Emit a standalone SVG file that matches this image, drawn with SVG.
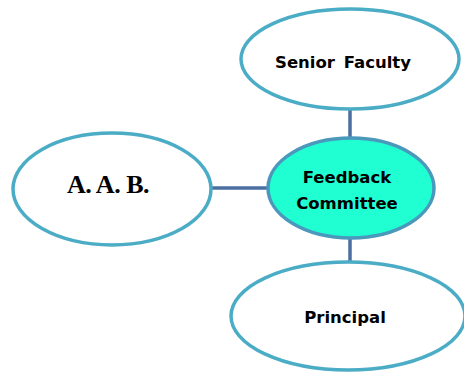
<svg xmlns="http://www.w3.org/2000/svg" width="464" height="372" viewBox="0 0 464 372">
<style>
.n{fill:#fff;stroke:#4bacc6;stroke-width:3.5}
.c{fill:#1fffd2;stroke:#4a98bb;stroke-width:3.5}
.t{font-family:"DejaVu Sans","Liberation Sans",sans-serif;font-weight:bold;font-size:16.5px;fill:#000;text-anchor:middle}
.s{font-family:"Liberation Serif",serif;font-weight:bold;font-size:26px;fill:#000;text-anchor:middle;letter-spacing:-0.5px}
.l{stroke:#4a6fa0;stroke-width:3.5;fill:none}
</style>
<rect width="464" height="372" fill="#fff"/>
<g id="connectors">
<line class="l" x1="350" y1="110" x2="350" y2="138"/>
<line class="l" x1="350" y1="238" x2="350" y2="262"/>
<line class="l" x1="212" y1="188" x2="268" y2="188"/>
</g>
<g id="senior-faculty">
<ellipse class="n" cx="350" cy="59" rx="109" ry="50"/>
<text class="t" x="343" y="68" word-spacing="3">Senior Faculty</text>
</g>
<g id="feedback-committee">
<ellipse class="c" cx="351" cy="188" rx="83" ry="50"/>
<text class="t" x="347" y="183">Feedback</text>
<text class="t" x="347" y="209">Committee</text>
</g>
<g id="aab">
<ellipse class="n" cx="112" cy="189" rx="99" ry="56"/>
<text class="s" x="108" y="193">A. A. B.</text>
</g>
<g id="principal">
<ellipse class="n" cx="348" cy="316" rx="117" ry="54"/>
<text class="t" x="345" y="323">Principal</text>
</g>
</svg>
